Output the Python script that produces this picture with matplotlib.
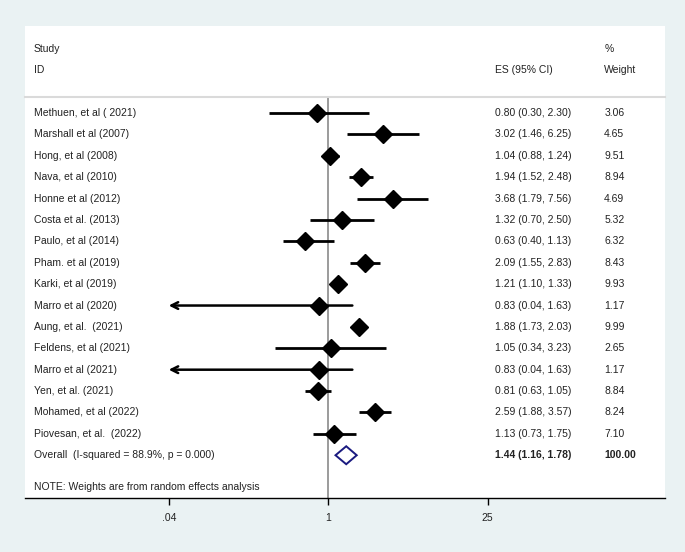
import numpy as np
import matplotlib
matplotlib.use('Agg')
import matplotlib.pyplot as plt
from matplotlib.patches import Polygon

plt.rcParams['font.family'] = ['Liberation Sans', 'DejaVu Sans']

# study rows
studies = ['Methuen, et al ( 2021)', 'Marshall et al (2007)', 'Hong, et al (2008)',
           'Nava, et al (2010)', 'Honne et al (2012)', 'Costa et al. (2013)',
           'Paulo, et al (2014)', 'Pham. et al (2019)', 'Karki, et al (2019)',
           'Marro et al (2020)', 'Aung, et al.  (2021)', 'Feldens, et al (2021)',
           'Marro et al (2021)', 'Yen, et al. (2021)', 'Mohamed, et al (2022)',
           'Piovesan, et al.  (2022)']
es = [0.80, 3.02, 1.04, 1.94, 3.68, 1.32, 0.63, 2.09, 1.21, 0.83, 1.88, 1.05, 0.83, 0.81, 2.59, 1.13]
lo = [0.30, 1.46, 0.88, 1.52, 1.79, 0.70, 0.40, 1.55, 1.10, 0.04, 1.73, 0.34, 0.04, 0.63, 1.88, 0.73]
hi = [2.30, 6.25, 1.24, 2.48, 7.56, 2.50, 1.13, 2.83, 1.33, 1.63, 2.03, 3.23, 1.63, 1.05, 3.57, 1.75]
weight = [3.06, 4.65, 9.51, 8.94, 4.69, 5.32, 6.32, 8.43, 9.93, 1.17, 9.99, 2.65, 1.17, 8.84, 8.24, 7.10]

overall_label = 'Overall  (I-squared = 88.9%, p = 0.000)'
overall_es, overall_lo, overall_hi = 1.44, 1.16, 1.78
overall_weight = '100.00'
note = 'NOTE: Weights are from random effects analysis'

xticks = [0.04, 1, 25]
xticklabels = ['.04', '1', '25']
arrow_at = 0.04

bg = '#EAF2F3'
txt = '#222222'
fs = 7.5

fig = plt.figure(figsize=(6.85, 5.52), dpi=100, facecolor=bg)
ax = fig.add_axes([0.0365, 0.0978, 0.9343, 0.8551])
ax.set_facecolor('white')

ax.set_xscale('log')
ax.set_xlim(np.exp(-6.12), np.exp(6.80))
ax.set_ylim(18.0, -4.07)

tr = ax.get_yaxis_transform()  # x in axes fraction, y in data

x_name, x_es, x_w = 0.014, 0.734, 0.905

# headers
ax.text(x_name, -3, 'Study', transform=tr, fontsize=fs, color=txt, va='center')
ax.text(x_name, -2, 'ID', transform=tr, fontsize=fs, color=txt, va='center')
ax.text(x_w, -3, '%', transform=tr, fontsize=fs, color=txt, va='center')
ax.text(x_es, -2, 'ES (95% CI)', transform=tr, fontsize=fs, color=txt, va='center')
ax.text(x_w, -2, 'Weight', transform=tr, fontsize=fs, color=txt, va='center')
ax.plot([0, 1], [-0.75, -0.75], transform=tr, color='#DADADA', lw=1.5, clip_on=False)

# null line
ax.plot([1, 1], [-0.75, 18.0], color='#808080', lw=1.1, zorder=1)

for i, name in enumerate(studies):
    if lo[i] <= arrow_at:
        ax.annotate('', xy=(arrow_at, i), xytext=(hi[i], i),
                    arrowprops=dict(arrowstyle='->', lw=1.8, color='black',
                                    mutation_scale=12, shrinkA=0, shrinkB=0), zorder=2)
    else:
        ax.plot([lo[i], hi[i]], [i, i], color='black', lw=2, solid_capstyle='butt', zorder=2)
    ax.plot(es[i], i, marker='D', ms=9.5, color='black', zorder=3)
    ax.text(x_name, i, name, transform=tr, fontsize=fs, color=txt, va='center')
    ax.text(x_es, i, '%.2f (%.2f, %.2f)' % (es[i], lo[i], hi[i]), transform=tr,
            fontsize=fs, color=txt, va='center')
    ax.text(x_w, i, '%.2f' % weight[i], transform=tr, fontsize=fs, color=txt, va='center')

# overall diamond
yo = len(studies)
dia = Polygon([(overall_lo, yo), (overall_es, yo - 0.42), (overall_hi, yo), (overall_es, yo + 0.42)],
              closed=True, facecolor='white', edgecolor='#1A1A80', lw=1.4, zorder=3)
ax.add_patch(dia)
ax.text(x_name, yo, overall_label, transform=tr, fontsize=fs, color=txt, va='center')
ax.text(x_es, yo, '%.2f (%.2f, %.2f)' % (overall_es, overall_lo, overall_hi), transform=tr,
        fontsize=fs, color=txt, va='center', fontweight='bold')
ax.text(x_w, yo, overall_weight, transform=tr, fontsize=fs, color=txt, va='center', fontweight='bold')

ax.text(x_name, 17.5, note, transform=tr, fontsize=fs, color=txt, va='center')

for s in ['top', 'right', 'left']:
    ax.spines[s].set_visible(False)
ax.spines['bottom'].set_color('black')
ax.spines['bottom'].set_linewidth(1)
ax.set_yticks([])
ax.xaxis.set_minor_locator(matplotlib.ticker.NullLocator())
ax.set_xticks(xticks)
ax.set_xticklabels(xticklabels)
ax.tick_params(axis='x', length=5, width=1, color='black', labelsize=fs, labelcolor=txt, pad=6)

fig.savefig('out.png', dpi=100, facecolor=bg)
